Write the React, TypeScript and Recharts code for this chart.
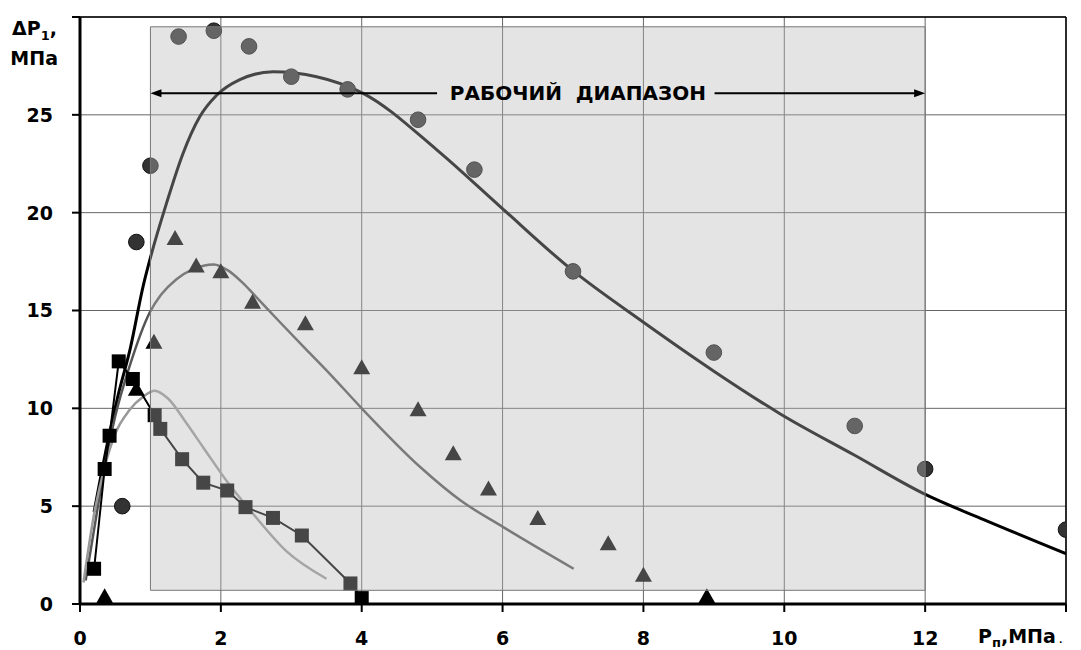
import React from 'react';
import {
  ComposedChart,
  Line,
  Scatter,
  XAxis,
  YAxis,
  CartesianGrid,
  ReferenceArea,
  ReferenceLine,
  ReferenceDot,
} from 'recharts';

// measured points (circles / triangles / squares)
const circleX = [0.6, 0.8, 1.0, 1.4, 1.9, 2.4, 3.0, 3.8, 4.8, 5.6, 7.0, 9.0, 11.0, 12.0, 14.0];
const circleY = [5.0, 18.5, 22.4, 29.0, 29.3, 28.5, 26.95, 26.3, 24.75, 22.2, 17.0, 12.85, 9.1, 6.9, 3.8];

const triangleX = [0.35, 0.8, 1.05, 1.35, 1.65, 2.0, 2.45, 3.2, 4.0, 4.8, 5.3, 5.8, 6.5, 7.5, 8.0, 8.9];
const triangleY = [0.4, 11.0, 13.4, 18.7, 17.3, 17.0, 15.45, 14.35, 12.1, 9.95, 7.7, 5.9, 4.4, 3.1, 1.5, 0.4];

const squareX = [0.2, 0.35, 0.42, 0.55, 0.75, 1.06, 1.14, 1.45, 1.75, 2.09, 2.35, 2.74, 3.15, 3.84, 4.0];
const squareY = [1.8, 6.9, 8.6, 12.4, 11.5, 9.65, 8.95, 7.4, 6.2, 5.8, 4.95, 4.4, 3.5, 1.05, 0.3];

// fitted curves
const fitAX = [0.2, 0.4, 0.55, 0.71, 0.9, 1.0, 1.23, 1.46, 1.7, 1.94, 2.27, 2.74, 3.36, 4.02, 5.07, 5.97, 6.99, 8.0, 9.0, 9.95, 11.0, 11.98, 12.84, 14.0];
const fitAY = [4.7, 8.4, 10.8, 13.0, 16.3, 17.7, 20.5, 23.0, 24.9, 26.0, 26.8, 27.2, 26.95, 26.1, 23.2, 20.3, 17.06, 14.4, 11.9, 9.7, 7.6, 5.64, 4.3, 2.57];

const fitBX = [0.08, 0.2, 0.35, 0.5, 0.7, 0.99, 1.15, 1.37, 1.6, 1.9, 2.1, 2.3, 2.5, 2.84, 3.2, 3.55, 4.0, 4.83, 5.4, 6.01, 7.01];
const fitBY = [1.2, 3.8, 7.0, 9.6, 12.1, 14.9, 15.8, 16.6, 17.1, 17.35, 17.05, 16.45, 15.7, 14.4, 13.05, 11.75, 10.0, 7.0, 5.3, 3.93, 1.8];

const fitCX = [0.05, 0.2, 0.35, 0.5, 0.7, 0.9, 1.06, 1.25, 1.5, 1.75, 2.08, 2.46, 2.93, 3.5];
const fitCY = [1.1, 4.6, 7.0, 8.7, 9.9, 10.6, 10.9, 10.5, 9.3, 8.0, 6.3, 4.6, 2.7, 1.29];

const xTicks = [0, 2, 4, 6, 8, 10, 12, 14];
const yTicks = [0, 5, 10, 15, 20, 25, 30];

const rangeLabel = 'РАБОЧИЙ  ДИАПАЗОН';

const zip = (xs: number[], ys: number[]) => xs.map((x, i) => ({ x, y: ys[i] }));

const circles = zip(circleX, circleY);
const triangles = zip(triangleX, triangleY);
const squares = zip(squareX, squareY);
const fitA = zip(fitAX, fitAY);
const fitB = zip(fitBX, fitBY);
const fitC = zip(fitCX, fitCY);

const font = {
  fontFamily: '"DejaVu Sans", "Liberation Sans", Arial, sans-serif',
  fontWeight: 700,
  fontSize: 19,
  fill: '#000',
};

const XTick = (p: any) => {
  const { x, y, payload } = p;
  if (payload.value === 14) {
    return (
      <text x={x - 88} y={y + 1} dy="0.71em" textAnchor="start" style={font}>
        P<tspan dy={4} fontSize={13}>п</tspan>
        <tspan dy={-4}>,МПа</tspan>
        <tspan fontSize={9}> .</tspan>
      </text>
    );
  }
  return (
    <text x={x} y={y + 3} dy="0.71em" textAnchor="middle" style={font}>
      {payload.value}
    </text>
  );
};

const YTick = (p: any) => {
  const { x, y, payload } = p;
  if (payload.value === 30) {
    return (
      <text textAnchor="end" style={font}>
        <tspan x={x - 5} y={y + 18}>
          ΔP<tspan dy={5} fontSize={13}>1</tspan>
          <tspan dy={-5}>,</tspan>
        </tspan>
        <tspan x={x - 4} y={y + 48}>МПа</tspan>
      </text>
    );
  }
  return (
    <text x={x - 9} y={y} dy="0.36em" textAnchor="end" style={font}>
      {payload.value}
    </text>
  );
};

const circleShape = (p: any) => (
  <circle cx={p.cx} cy={p.cy} r={7.8} fill="#333" stroke="#111" strokeWidth={1} />
);

const triangleShape = (p: any) => (
  <polygon
    points={`${p.cx},${p.cy - 8} ${p.cx - 8.5},${p.cy + 7} ${p.cx + 8.5},${p.cy + 7}`}
    fill="#000"
  />
);

const squareDot = (p: any) => (
  <rect key={p.index} x={p.cx - 7} y={p.cy - 7} width={14} height={14} fill="#000" />
);

const arrowLeft = (p: any) => (
  <g>
    <line x1={p.x1 + 8} y1={p.y1} x2={p.x2} y2={p.y2} stroke="#000" strokeWidth={2} />
    <polygon points={`${p.x1},${p.y1} ${p.x1 + 11},${p.y1 - 4} ${p.x1 + 11},${p.y1 + 4}`} fill="#000" />
  </g>
);

const arrowRight = (p: any) => (
  <g>
    <line x1={p.x1} y1={p.y1} x2={p.x2 - 8} y2={p.y2} stroke="#000" strokeWidth={2} />
    <polygon points={`${p.x2},${p.y2} ${p.x2 - 11},${p.y2 - 4} ${p.x2 - 11},${p.y2 + 4}`} fill="#000" />
  </g>
);

const rangeText = (p: any) => (
  <text x={p.cx} y={p.cy + 7} textAnchor="middle" style={{ ...font, fontSize: 20, whiteSpace: 'pre' }}>
    {rangeLabel}
  </text>
);

export default function App() {
  return (
    <div style={{ position: 'absolute', left: 0, top: 0, background: '#fff' }}>
      <ComposedChart width={1081} height={650} margin={{ top: 17, right: 15, bottom: 0, left: 0 }}>
        <CartesianGrid stroke="#666" strokeWidth={1} />
        <XAxis
          type="number"
          dataKey="x"
          domain={[0, 14]}
          ticks={xTicks}
          interval={0}
          height={46}
          allowDataOverflow
          axisLine={{ stroke: '#000', strokeWidth: 3 }}
          tickLine={{ stroke: '#000', strokeWidth: 2 }}
          tickSize={8}
          tickMargin={17}
          tick={<XTick />}
        />
        <YAxis
          type="number"
          dataKey="y"
          domain={[0, 30]}
          ticks={yTicks}
          interval={0}
          width={80}
          allowDataOverflow
          axisLine={{ stroke: '#000', strokeWidth: 3 }}
          tickLine={{ stroke: '#000', strokeWidth: 2 }}
          tickSize={8}
          tickMargin={10}
          tick={<YTick />}
        />
        <ReferenceLine y={30} stroke="#000" strokeWidth={1.5} />
        <ReferenceLine x={14} stroke="#000" strokeWidth={1.5} />

        <Line data={fitA} dataKey="y" type="monotone" stroke="#000" strokeWidth={3} dot={false} isAnimationActive={false} />
        <Line data={fitB} dataKey="y" type="monotone" stroke="#555" strokeWidth={2.5} dot={false} isAnimationActive={false} />
        <Line data={fitC} dataKey="y" type="monotone" stroke="#999" strokeWidth={2.5} dot={false} isAnimationActive={false} />
        <Line data={squares} dataKey="y" type="linear" stroke="#000" strokeWidth={2} dot={squareDot} isAnimationActive={false} />
        <Scatter data={circles} dataKey="y" shape={circleShape} isAnimationActive={false} />
        <Scatter data={triangles} dataKey="y" shape={triangleShape} isAnimationActive={false} />

        <ReferenceArea
          x1={1}
          x2={12}
          y1={0.7}
          y2={29.5}
          fill="rgb(185,185,185)"
          fillOpacity={0.38}
          stroke="#777"
          strokeWidth={1}
          zIndex={700}
        />
        <ReferenceLine segment={[{ x: 1, y: 26.1 }, { x: 5.07, y: 26.1 }]} shape={arrowLeft} zIndex={800} />
        <ReferenceLine segment={[{ x: 9.01, y: 26.1 }, { x: 12, y: 26.1 }]} shape={arrowRight} zIndex={800} />
        <ReferenceDot x={7.07} y={26.1} r={0} shape={rangeText} zIndex={800} />
      </ComposedChart>
    </div>
  );
}
